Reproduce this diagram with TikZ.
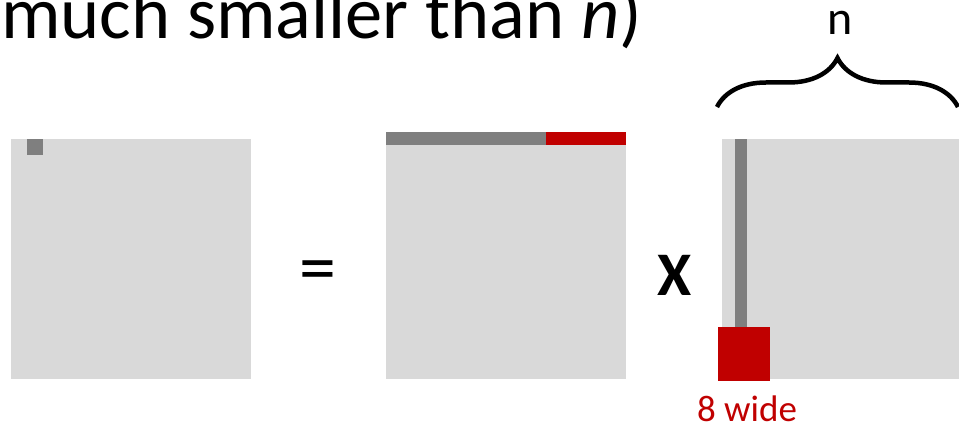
\documentclass[tikz,border=0pt]{standalone}
\usepackage{fontspec}
\setmainfont{Carlito}
\usetikzlibrary{positioning,decorations.pathreplacing}
\definecolor{matgray}{RGB}{217,217,217}
\definecolor{stripgray}{RGB}{127,127,127}
\definecolor{blockred}{RGB}{192,0,0}

\begin{document}
\begin{tikzpicture}[x=1pt,y=-1pt,
  mat/.style={fill=matgray,minimum size=240pt,inner sep=0pt,anchor=north west}]
 \useasboundingbox (0,0) rectangle (959,425);
 \clip (0,0) rectangle (959,425);
 \node[anchor=base west,inner sep=0pt,font=\fontsize{74.5}{80}\selectfont] (title) at (1,39)
   {much smaller than \textit{n})};
 % the three matrices
 \node[mat] (C) at (11,139) {};
 \node[mat] (A) at (386,139) {};
 \node[mat] (B) at (722,139) {};
 \fill[stripgray] (27,139) rectangle (43,155);
 \fill[stripgray] (386,132) rectangle (546,145);
 \fill[blockred] (546,132) rectangle (626,145);
 \fill[stripgray] (735,139) rectangle (747,327);
 \fill[blockred] (718,327) rectangle (770,381);
 \node[anchor=base,inner sep=0pt,font=\fontsize{74}{80}\selectfont] (eq) at (318,292) {=};
 \node[anchor=base,inner sep=0pt,font=\bfseries\fontsize{62}{70}\selectfont] (times) at (675,295) {X};
 \node[anchor=base,inner sep=0pt,text=blockred,font=\fontsize{37}{40}\selectfont] (wide) at (747,421) {8 wide};
 % brace over B
 \coordinate (bl) at (717,107);
 \coordinate (br) at (958,107);
 \draw[decorate,decoration={brace,amplitude=49pt},line width=4.5pt] (bl) -- (br);
 \node[anchor=base,inner sep=0pt,font=\fontsize{48}{52}\selectfont] (nlab) at (840,35) {n};
\end{tikzpicture}
\end{document}
